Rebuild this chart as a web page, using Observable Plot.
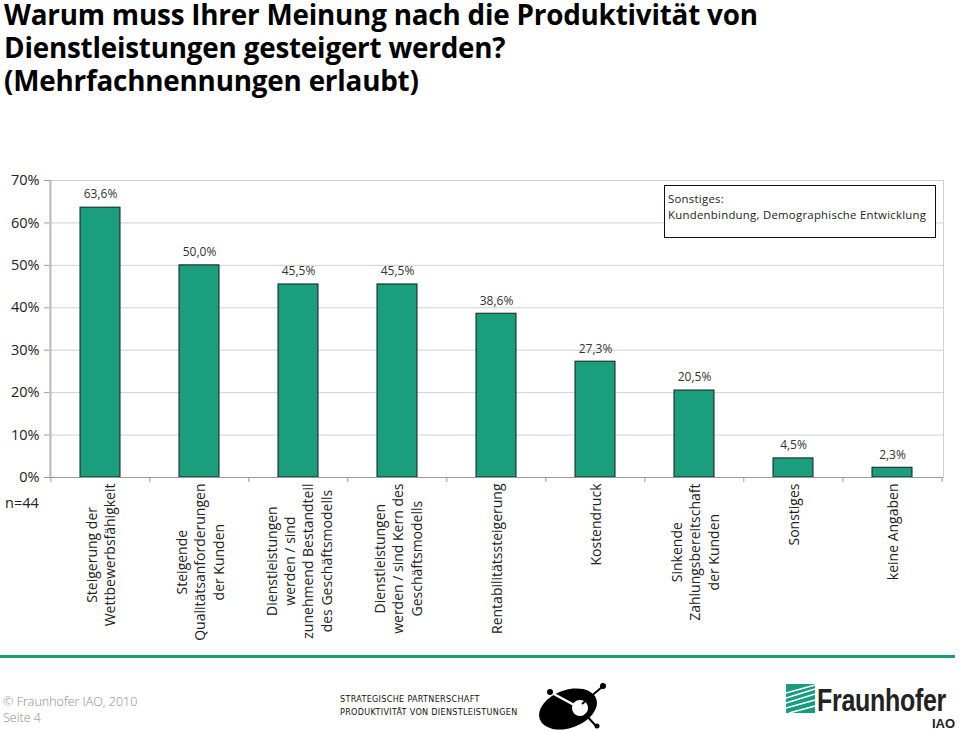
<!DOCTYPE html>
<html>
<head>
<meta charset="utf-8">
<script src="https://cdn.jsdelivr.net/npm/d3@7"></script>
<script src="https://cdn.jsdelivr.net/npm/@observablehq/plot@0.6"></script>
<style>
  html, body { margin: 0; padding: 0; background: #fff; }
  #page { position: relative; width: 960px; height: 731px; overflow: hidden; font-family: "Open Sans", sans-serif; }
  #title { position: absolute; left: 4px; top: -2px; font-family: "Open Sans", sans-serif; font-weight: 700; font-size: 27.8px; line-height: 33px; color: #000; letter-spacing: -0.2px; }
  #chart { position: absolute; left: 0; top: 160px; }
  #note { position: absolute; left: 664px; top: 185px; width: 267px; height: 46px; border: 1px solid #111; background: #fff; font-size: 11.4px; line-height: 15.6px; letter-spacing: 0.25px; color: #222; padding: 5px 0 0 3px; box-sizing: content-box; }
  #n { position: absolute; left: 5px; top: 493px; font-size: 14.5px; color: #222; }
  #rule { position: absolute; left: 0; top: 655px; width: 955px; height: 3px; background: #179c7d; }
  #copy { position: absolute; left: 3px; top: 694px; font-size: 12.5px; line-height: 16px; color: #8a8a8a; font-weight: 300; }
  #partner { position: absolute; left: 340px; top: 693px; font-family: "Liberation Sans Narrow", "DejaVu Sans Condensed", sans-serif; font-size: 9px; line-height: 13px; color: #111; letter-spacing: 0.3px; }
  #blob { position: absolute; left: 530px; top: 680px; }
  #fhlogo { position: absolute; left: 786px; top: 684px; }
  #fhtext { position: absolute; left: 817px; top: 683px; font-family: "Liberation Sans", Arial, sans-serif; font-weight: 700; font-size: 25px; line-height: 28px; color: #222; letter-spacing: -0.3px; transform: scale(1, 1.22); transform-origin: 0 0; }
  #iao { position: absolute; left: 932px; top: 716px; font-family: "Liberation Sans", Arial, sans-serif; font-weight: 700; font-size: 13px; line-height: 15px; color: #222; }
</style>
</head>
<body>
<div id="page">
  <div id="title">Warum muss Ihrer Meinung nach die Produktivität von<br>Dienstleistungen gesteigert werden?<br>(Mehrfachnennungen erlaubt)</div>
  <div id="chart"></div>
  <div id="note">Sonstiges:<br>Kundenbindung, Demographische Entwicklung</div>
  <div id="n">n=44</div>
  <div id="rule"></div>
  <div id="copy">© Fraunhofer IAO, 2010<br>Seite 4</div>
  <div id="partner">STRATEGISCHE PARTNERSCHAFT<br>PRODUKTIVITÄT VON DIENSTLEISTUNGEN</div>
  <svg id="blob" width="95" height="50" viewBox="0 0 95 50">
    <ellipse cx="38" cy="29" rx="30" ry="19" transform="rotate(-20 38 29)" fill="#000"/>
    <line x1="22" y1="13" x2="46" y2="26" stroke="#fff" stroke-width="2.5"/>
    <circle cx="50" cy="28" r="8" fill="#fff"/>
    <line x1="52" y1="24" x2="72" y2="7" stroke="#000" stroke-width="2"/>
    <line x1="55" y1="34" x2="66" y2="46" stroke="#000" stroke-width="2"/>
    <circle cx="73" cy="6" r="3" fill="#000"/>
    <circle cx="67" cy="46" r="2.5" fill="#000"/>
    <circle cx="20" cy="12" r="3" fill="#000"/>
  </svg>
  <svg id="fhlogo" width="30" height="30" viewBox="0 0 30 30">
    <rect x="0" y="0" width="29" height="29" fill="#179c7d"/>
    <g stroke="#fff" stroke-width="1.6" fill="none">
      <line x1="0" y1="9" x2="29" y2="1"/>
      <line x1="0" y1="14" x2="29" y2="5"/>
      <line x1="0" y1="19" x2="29" y2="10"/>
      <line x1="0" y1="24" x2="29" y2="16"/>
      <line x1="3" y1="29" x2="29" y2="22"/>
    </g>
  </svg>
  <div id="fhtext">Fraunhofer</div>
  <div id="iao">IAO</div>
</div>
<script>
// ---- data ----
const categories = [
  "Steigerung der\nWettbewerbsfähigkeit",
  "Steigende\nQualitätsanforderungen\nder Kunden",
  "Dienstleistungen\nwerden / sind\nzunehmend Bestandteil\ndes Geschäftsmodells",
  "Dienstleistungen\nwerden / sind Kern des\nGeschäftsmodells",
  "Rentabilitätssteigerung",
  "Kostendruck",
  "Sinkende\nZahlungsbereitschaft\nder Kunden",
  "Sonstiges",
  "keine Angaben"
];
const values = [63.6, 50.0, 45.5, 45.5, 38.6, 27.3, 20.5, 4.5, 2.3];
const yTicks = [0, 10, 20, 30, 40, 50, 60, 70];

const data = categories.map((c, i) => ({cat: c, value: values[i]}));

// ---- layout ----
const width = 960, height = 490;
const marginTop = 20, marginBottom = 173, marginLeft = 49, marginRight = 17;
const plotH = height - marginTop - marginBottom;
const step = (width - marginLeft - marginRight) / categories.length;
const labelFont = 14;

const ctx = document.createElement("canvas").getContext("2d");
ctx.font = `${labelFont}px "Open Sans"`;
const maxLen = s => Math.max(...s.split("\n").map(l => ctx.measureText(l).width));

const fmt = v => d3.format(".1f")(v).replace(".", ",") + "%";

const labelMarks = categories.map(c => Plot.text([c], {
  x: d => d,
  frameAnchor: "bottom",
  text: d => d,
  rotate: -90,
  textAnchor: "middle",
  lineAnchor: "middle",
  lineHeight: 1.3,
  fontSize: labelFont,
  fill: "#222",
  dy: 6 + maxLen(c) / 2
}));

const chart = Plot.plot({
  width, height, marginTop, marginBottom, marginLeft, marginRight,
  style: {fontFamily: "'Open Sans', sans-serif", background: "transparent", overflow: "visible"},
  x: {domain: categories, paddingInner: 0.6, paddingOuter: 0.3, axis: null},
  y: {domain: [0, 70], axis: null},
  marks: [
    Plot.gridY(yTicks, {stroke: "#d0d0d0", strokeOpacity: 1}),
    Plot.frame({stroke: "#d0d0d0"}),
    Plot.ruleX([categories[0]], {x: d => d, dx: -step / 2, stroke: "#9a9a9a"}),
    Plot.axisY({ticks: yTicks, tickFormat: d => d + "%", label: null, tickSize: 5, tickPadding: 5, fontSize: 14.5, stroke: "#9a9a9a", fill: "#222"}),
    Plot.ruleX(categories, {x: d => d, dx: -step / 2, insetTop: plotH, insetBottom: -5, stroke: "#9a9a9a"}),
    Plot.ruleX([categories[categories.length - 1]], {x: d => d, dx: step / 2, insetTop: plotH, insetBottom: -5, stroke: "#9a9a9a"}),
    Plot.barY(data, {x: "cat", y: "value", fill: "#1a9e7d", stroke: "#1a1a1a", strokeWidth: 1}),
    Plot.ruleY([0], {stroke: "#9a9a9a"}),
    Plot.text(data, {x: "cat", y: "value", text: d => fmt(d.value), dy: -13, fontSize: 12, fill: "#333"}),
    ...labelMarks
  ]
});
document.getElementById("chart").appendChild(chart);
</script>
</body>
</html>
